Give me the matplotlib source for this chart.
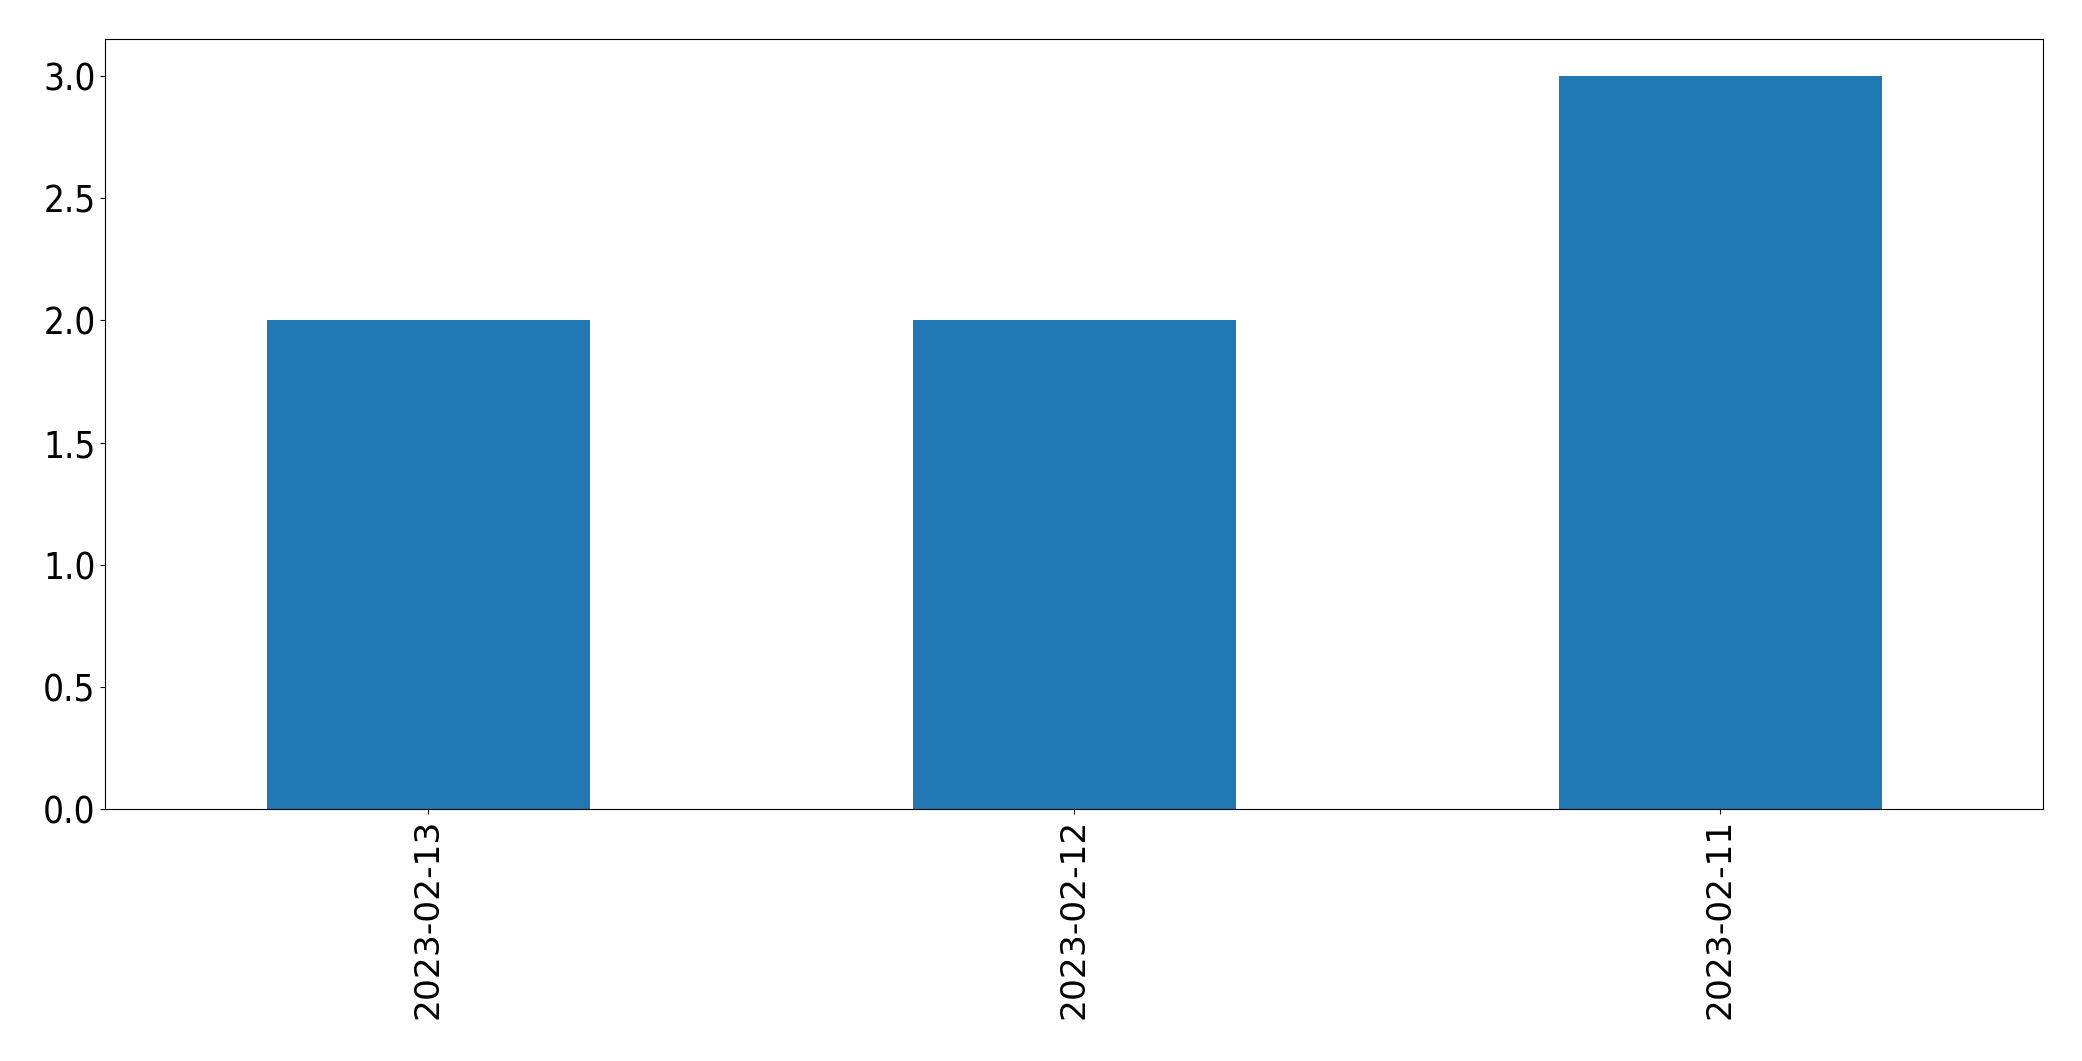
import matplotlib
matplotlib.use('Agg')
import matplotlib.pyplot as plt
import pandas as pd

dates = ['2023-02-13', '2023-02-12', '2023-02-11']
counts = [2, 2, 3]

series = pd.Series(counts, index=dates)

fig = plt.figure(figsize=(20.82, 10.61), dpi=100)
ax = fig.add_axes([0.0506, 0.2375, 0.9308, 0.7254])
series.plot.bar(ax=ax, color='#1f77b4')

# x labels read a bit longer than the y labels are wide
ax.tick_params(axis='x', labelsize=24.8)
for lbl in ax.get_yticklabels():
    lbl.set_fontsize(26.5)
    lbl.set_fontstretch('condensed')

fig.savefig('out.png', dpi=100)
